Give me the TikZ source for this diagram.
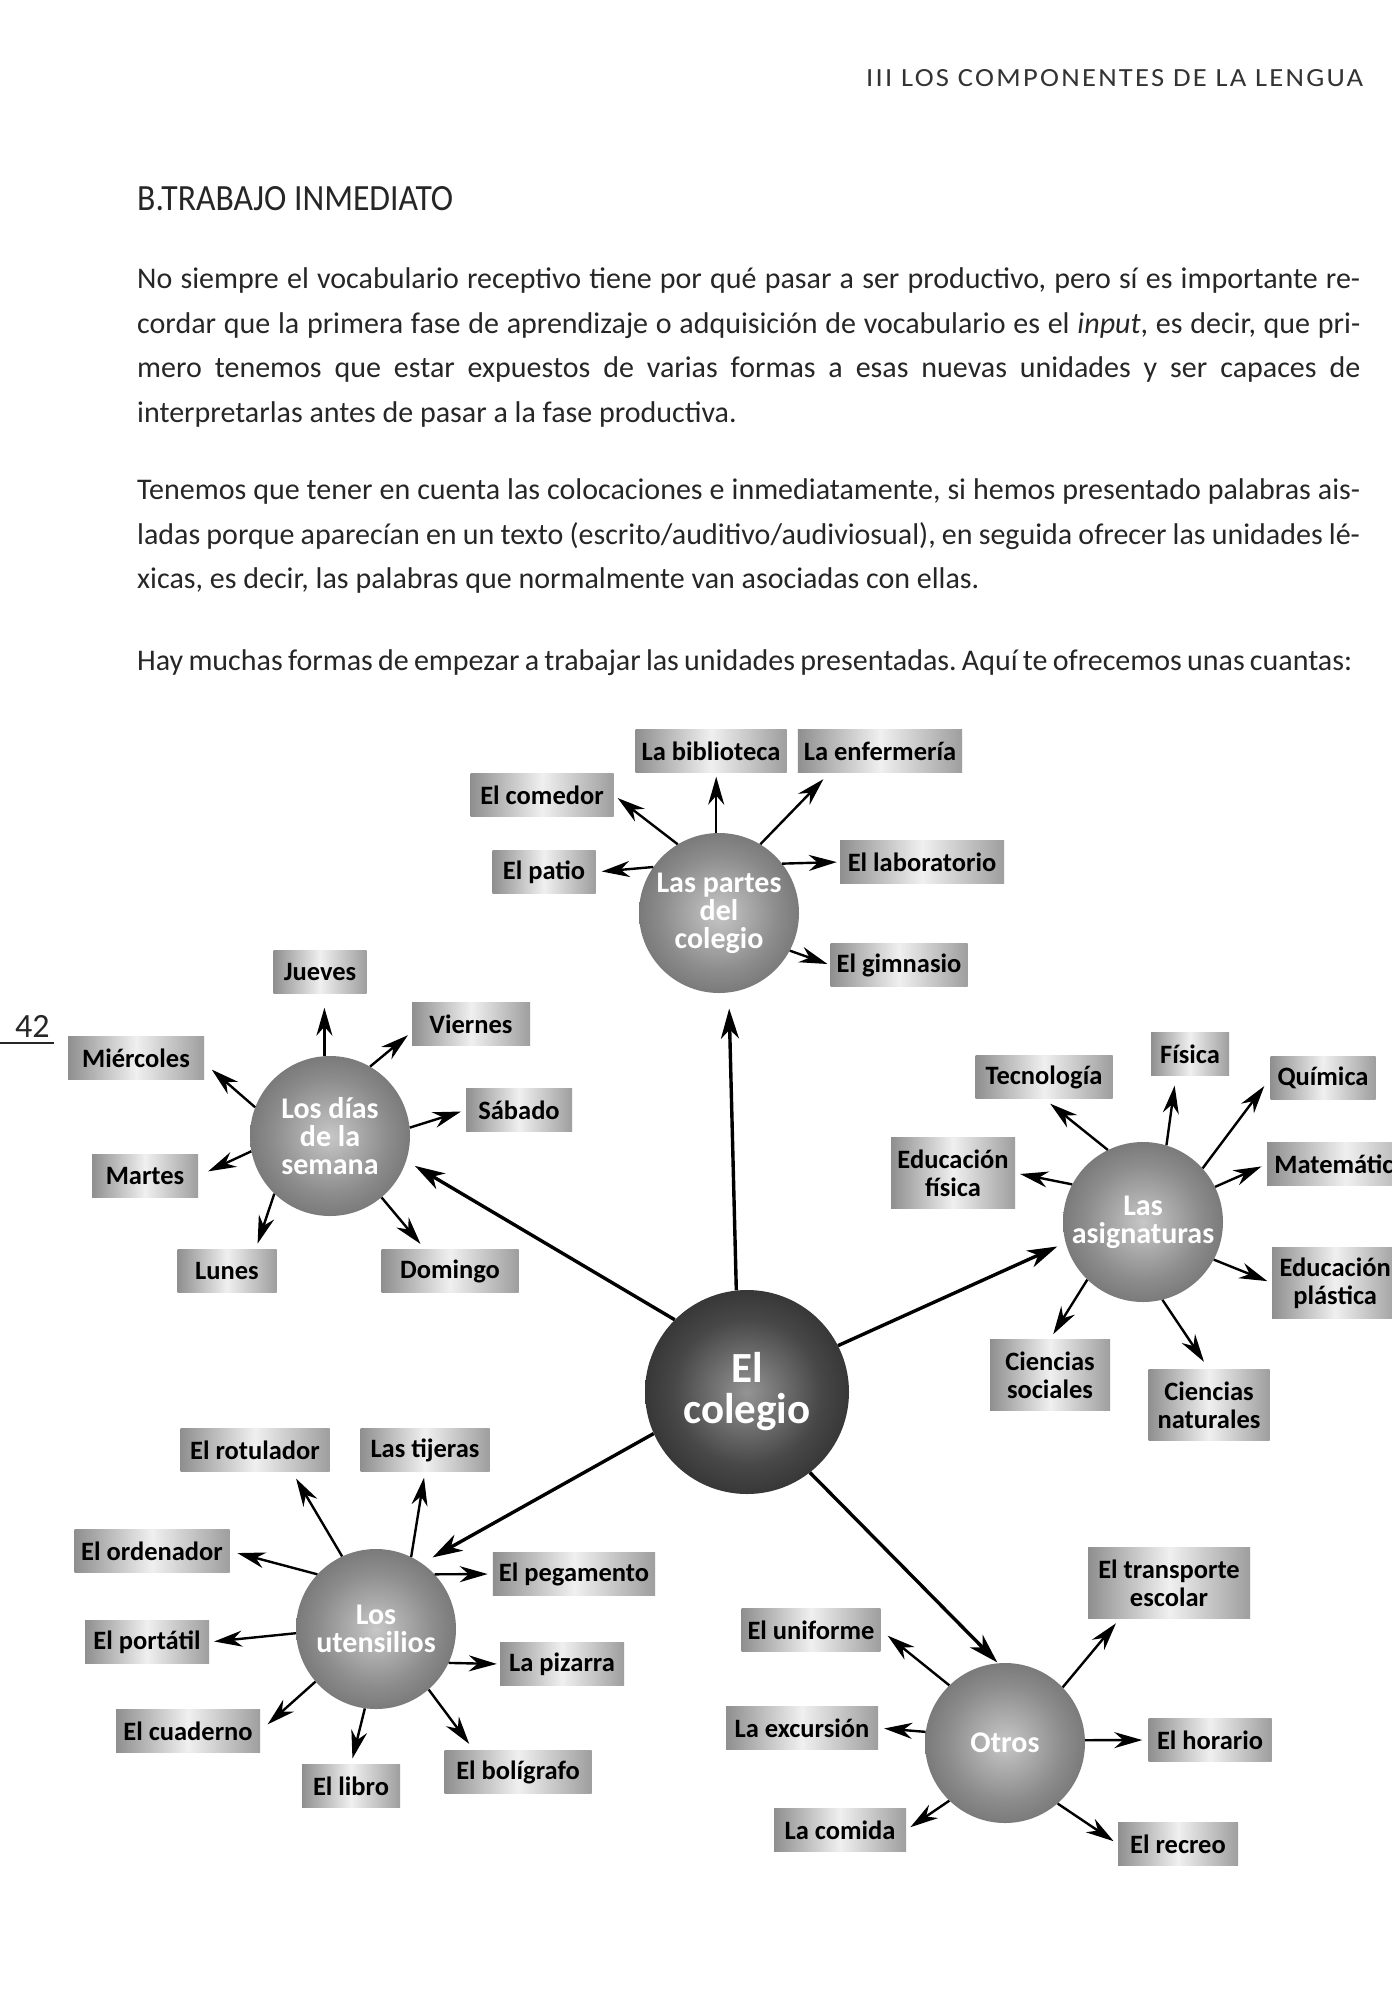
\documentclass[tikz,border=0pt]{standalone}
\usepackage{fontspec}
\usepackage{graphicx}
\setmainfont{Carlito}
\frenchspacing
\usetikzlibrary{arrows.meta}
\newcommand\bodyfnt{\fontsize{30}{44}\selectfont}
\newcommand\lblfnt{\fontsize{26.5}{28}\selectfont\bfseries}
\newcommand\hubfnt{\fontsize{30}{28}\selectfont\bfseries}
\newcommand\cenfnt{\fontsize{43}{41}\selectfont\bfseries}
\pgfdeclareradialshading{hubshade}{\pgfpoint{0bp}{0bp}}{color(0bp)=(black!22); color(18bp)=(black!45); color(38bp)=(black!65); color(50bp)=(black!78)}
\pgfdeclareradialshading{censhade}{\pgfpoint{0bp}{0bp}}{color(0bp)=(black!42); color(18bp)=(black!72); color(38bp)=(black!90); color(50bp)=(black!97)}
\begin{document}
\begin{tikzpicture}[x=1pt,y=-1pt,
  lbl/.style={rectangle, inner xsep=6pt, inner ysep=0pt, minimum height=43pt, minimum width=#1pt, left color=black!44, right color=black!38, middle color=black!6, align=center, font=\lblfnt, text=black},
  lbltwo/.style={lbl=#1, minimum height=71pt},
  hub/.style={circle, minimum size=160pt, inner sep=0pt, shade, shading=hubshade, text=white, align=center, font=\hubfnt},
  cen/.style={circle, minimum size=204pt, inner sep=0pt, shade, shading=censhade, text=white, align=center, font=\cenfnt},
  arr/.style={line width=2.4pt, -{Stealth[length=28pt,width=16pt,inset=9pt]}},
  mainarr/.style={line width=3.4pt, -{Stealth[length=30pt,width=18pt,inset=9pt]}},
  txt/.style={anchor=base west, inner sep=0pt, font=\bodyfnt, text=black!85},
]
\fill[white] (0,0) rectangle (1392,2000);
\useasboundingbox (0,0) rectangle (1392,2000);

% header and text
\node[anchor=base west, inner sep=0pt, text=black!80] (hdr) at (866,86) {\resizebox{497pt}{17pt}{\addfontfeatures{LetterSpace=8}III LOS COMPONENTES DE LA LENGUA}};
\node[anchor=base west, inner sep=0pt, text=black!85] (ttl) at (137,210) {\resizebox{316pt}{24pt}{B.TRABAJO INMEDIATO}};

\node[txt] (p1a) at (137,288) {\makebox[1223pt][s]{No siempre el vocabulario receptivo tiene por qué pasar a ser productivo, pero sí es importante re-}};
\node[txt] (p1b) at (137,333) {\makebox[1223pt][s]{cordar que la primera fase de aprendizaje o adquisición de vocabulario es el \textit{input}, es decir, que pri-}};
\node[txt] (p1c) at (137,377) {\makebox[1223pt][s]{mero tenemos que estar expuestos de varias formas a esas nuevas unidades y ser capaces de}};
\node[txt] (p1d) at (137,422) {interpretarlas antes de pasar a la fase productiva.};
\node[txt] (p2a) at (137,499) {\makebox[1223pt][s]{Tenemos que tener en cuenta las colocaciones e inmediatamente, si hemos presentado palabras ais-}};
\node[txt] (p2b) at (137,544) {\makebox[1223pt][s]{ladas porque aparecían en un texto (escrito/auditivo/audiviosual), en seguida ofrecer las unidades lé-}};
\node[txt] (p2c) at (137,588) {xicas, es decir, las palabras que normalmente van asociadas con ellas.};
\node[txt] (p3a) at (137,670) {\makebox[1215pt][s]{Hay muchas formas de empezar a trabajar las unidades presentadas. Aquí te ofrecemos unas cuantas:}};

\node[anchor=base west, inner sep=0pt, font=\fontsize{34}{34}\selectfont, text=black!85] (pnum) at (15,1037) {42};
\draw[line width=2.5pt, black!85] (0,1043) -- (54,1043);

% hubs
\node[hub] (A) at (719,913) {Las partes\\del\\colegio};
\node[hub] (B) at (330,1136) {Los días\\de la\\semana};
\node[hub] (C) at (1143,1222) {Las\\asignaturas};
\node[hub] (D) at (376,1629) {Los\\utensilios};
\node[hub] (E) at (1005,1743) {Otros};
\node[cen] (cen) at (747,1392) {El\\colegio};

% labels A
\node[lbl=151] (biblio) at (711,751) {La biblioteca};
\node[lbl=163] (enf) at (880,751) {La enfermería};
\node[lbl=143] (comedor) at (542,795) {El comedor};
\node[lbl=103] (patio) at (544,872) {El patio};
\node[lbl=164] (lab) at (922,862) {El laboratorio};
\node[lbl=137] (gim) at (899,965) {El gimnasio};
% labels B
\node[lbl=93] (jueves) at (320,972) {Jueves};
\node[lbl=118] (viernes) at (471,1024) {Viernes};
\node[lbl=136] (mier) at (136,1058) {Miércoles};
\node[lbl=106] (sabado) at (519,1110) {Sábado};
\node[lbl=106] (martes) at (145,1176) {Martes};
\node[lbl=99] (lunes) at (227,1271) {Lunes};
\node[lbl=137] (domingo) at (450,1271) {Domingo};
% labels C
\node[lbl=137] (tecno) at (1044,1077) {Tecnología};
\node[lbl=78] (fisica) at (1190,1054) {Física};
\node[lbl=105] (quimica) at (1323,1078) {Química};
\node[lbltwo=124] (edfis) at (953,1173) {Educación\\física};
\node[lbl=157, anchor=west] (mate) at (1267,1164) {Matemáticas};
\node[lbltwo=126, anchor=west] (edpl) at (1272,1283) {Educación\\plástica};
\node[lbltwo=120] (csoc) at (1050,1375) {Ciencias\\sociales};
\node[lbltwo=121] (cnat) at (1209,1405) {Ciencias\\naturales};
% labels D
\node[lbl=149] (rotul) at (255,1450) {El rotulador};
\node[lbl=129] (tijeras) at (425,1450) {Las tijeras};
\node[lbl=155] (orden) at (152,1551) {El ordenador};
\node[lbl=158] (peg) at (574,1574) {El pegamento};
\node[lbl=124] (port) at (147,1642) {El portátil};
\node[lbl=124] (piz) at (562,1664) {La pizarra};
\node[lbl=144] (cuad) at (188,1731) {El cuaderno};
\node[lbl=98] (libro) at (351,1786) {El libro};
\node[lbl=147] (bolig) at (518,1772) {El bolígrafo};
% labels E
\node[lbltwo=162] (transp) at (1169,1583) {El transporte\\escolar};
\node[lbl=138] (unif) at (811,1630) {El uniforme};
\node[lbl=152] (exc) at (802,1728) {La excursión};
\node[lbl=123] (hor) at (1210,1740) {El horario};
\node[lbl=132] (comida) at (840,1830) {La comida};
\node[lbl=120] (recreo) at (1178,1844) {El recreo};

% arrows A
\draw[arr, shorten >=4pt] (A.92) -- (biblio.south -| A.92);
\draw[arr, shorten >=5pt] (A.121) -- (comedor.east);
\draw[arr, shorten >=9pt] (A.59) -- ([xshift=32pt]enf.south west);
\draw[arr, shorten >=6pt] (A.145) -- (patio.east);
\draw[arr, shorten >=3pt] (A.38) -- (lab.west);
\draw[arr, shorten >=3pt] (A.332) -- (gim.west);
% arrows B
\draw[arr, shorten >=14pt] (B.94) -- (jueves.south -| B.94);
\draw[arr, shorten >=5pt] (B.60) -- ([yshift=-8pt]viernes.west);
\draw[arr, shorten >=10pt] (B.159) -- ([yshift=-5pt]mier.east);
\draw[arr, shorten >=5pt] (B.6) -- (sabado.west);
\draw[arr, shorten >=11pt] (B.191) -- (martes.east);
\draw[arr, shorten >=6pt] (B.226) -- ([xshift=-21pt]lunes.north east);
\draw[arr, shorten >=7pt] (B.310) -- ([xshift=-25pt]domingo.north);
% arrows C
\draw[arr, shorten >=8pt] (C.116) -- (tecno.south);
\draw[arr, shorten >=10pt] (C.73) -- ([xshift=-14pt]fisica.south);
\draw[arr, shorten >=10pt] (C.42) -- (quimica.west);
\draw[arr, shorten >=6pt] (C.26) -- (mate.west);
\draw[arr, shorten >=5pt] (C.152) -- (edfis.east);
\draw[arr, shorten >=5pt] (C.332) -- (edpl.west);
\draw[arr, shorten >=6pt] (C.226) -- (csoc.north);
\draw[arr, shorten >=9pt] (C.284) -- (cnat.north);
% arrows D
\draw[arr, shorten >=8pt] (D.115) -- ([xshift=37pt]rotul.south);
\draw[arr, shorten >=6pt] (D.64) -- (tijeras.south);
\draw[arr, shorten >=8pt] (D.137) -- (orden.east);
\draw[arr, shorten >=5pt] (D.43) -- (peg.west);
\draw[arr, shorten >=5pt] (D.183) -- (port.east);
\draw[arr, shorten >=3pt] (D.335) -- (piz.west);
\draw[arr, shorten >=10pt] (D.221) -- (cuad.east);
\draw[arr, shorten >=6pt] (D.262) -- (libro.north);
\draw[arr, shorten >=8pt] (D.311) -- ([xshift=-44pt]bolig.north);
% arrows E
\draw[arr, shorten >=9pt] (E.134) -- (unif.east);
\draw[arr, shorten >=6pt] (E.44) -- ([xshift=32pt]transp.south west);
\draw[arr, shorten >=6pt] (E.172) -- (exc.east);
\draw[arr, shorten >=6pt] (E.2) -- (hor.west);
\draw[arr, shorten >=5pt] (E.226) -- (comida.east);
\draw[arr, shorten >=5pt] (E.311) -- (recreo.west);
% central connectors
\draw[mainarr, shorten >=16pt] (cen.96) -- (A.277);
\draw[mainarr, shorten >=10pt] (cen.135) -- (B.342);
\draw[mainarr, shorten >=9pt] (cen.27) -- (C.195);
\draw[mainarr, shorten >=12pt] (cen.204) -- (D.55);
\draw[mainarr, shorten >=1pt] (cen.308) -- (E.95);
\end{tikzpicture}
\end{document}
